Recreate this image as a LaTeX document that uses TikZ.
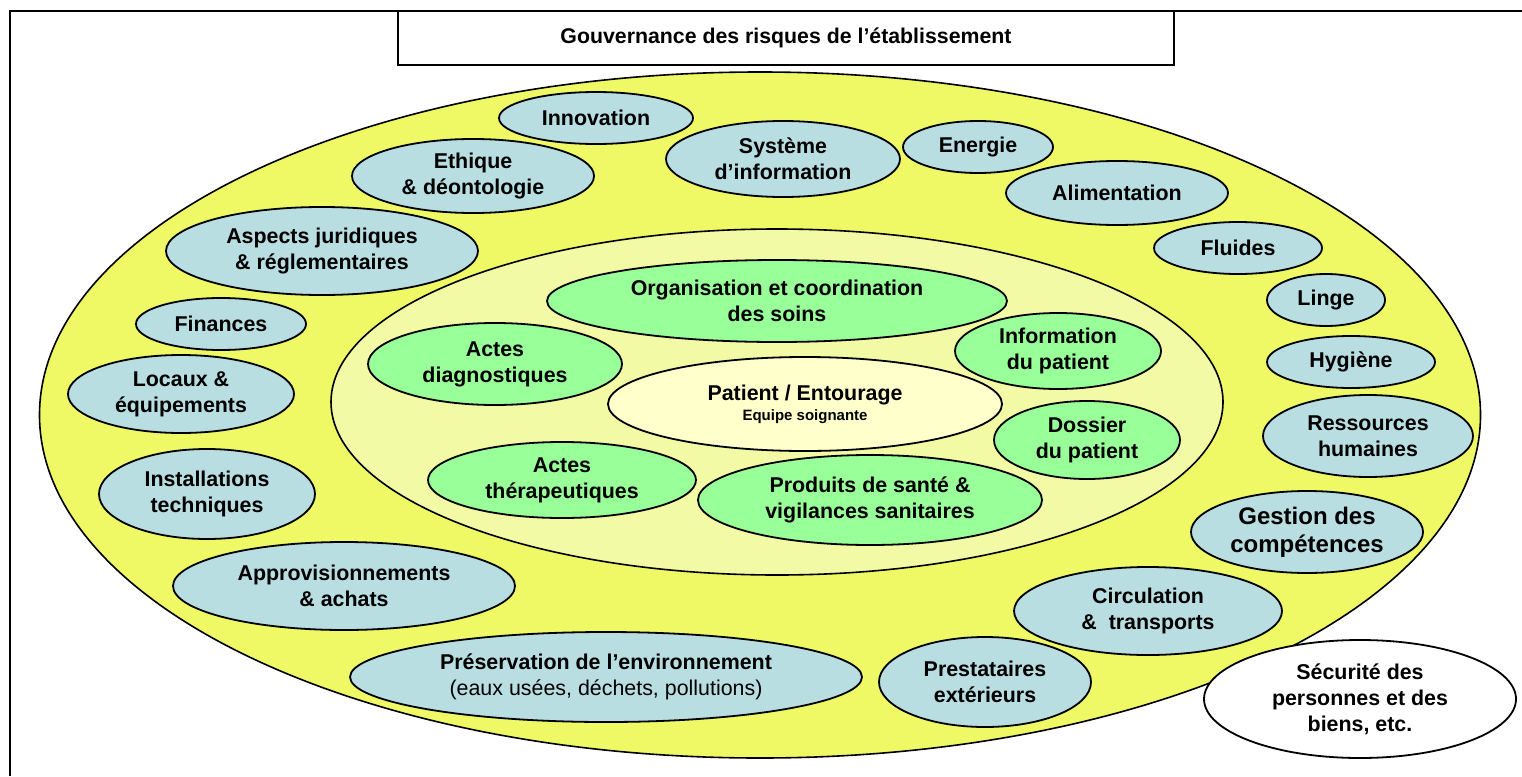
\documentclass[tikz,border=0pt]{standalone}
\usepackage{fontspec}
\setmainfont{Liberation Sans}
\usetikzlibrary{shapes.geometric}
\definecolor{outerY}{RGB}{239,249,102}
\definecolor{innerY}{RGB}{243,250,165}
\definecolor{coreY}{RGB}{255,255,204}
\definecolor{blueE}{RGB}{185,222,226}
\definecolor{greenE}{RGB}{153,255,153}
\begin{document}
\begin{tikzpicture}[x=1pt,y=-1pt,
  oval/.style={ellipse, draw=black, line width=1.8pt, inner sep=0pt, align=center,
    font=\bfseries\fontsize{21.4}{26}\selectfont},
  blueoval/.style={oval, fill=blueE},
  greenoval/.style={oval, fill=greenE},
  ring/.style={ellipse, draw=black, line width=1.6pt, inner sep=0pt},
  sz/.style 2 args={minimum width=#1pt, minimum height=#2pt}
]
\useasboundingbox (0,0) rectangle (1522,776);
% frame
\coordinate (fbl) at (10,776);
\coordinate (ftl) at (10,11);
\coordinate (ftr) at (1522,11);
\draw[line width=2.2pt] (fbl) -- (ftl) -- (ftr);
% title
\node[draw=black, line width=1.8pt, fill=white, inner sep=0pt, minimum width=776pt, minimum height=54pt,
  font=\bfseries\fontsize{21.3}{25}\selectfont] (title) at (786,38) {Gouvernance des risques de l’établissement};
% rings
\node[ring, fill=outerY, sz={1441}{686}] (outer) at (760,415) {};
\node[ring, fill=innerY, sz={892}{346}] (inner) at (777,402) {};
\node[oval, fill=coreY, sz={394}{94}] (core) at (805,404)
  {Patient / Entourage\\[-6pt]{\fontsize{15}{19}\selectfont Equipe soignante}};
% outer ring items
\node[blueoval, sz={194}{52}] (innov) at (596,118) {Innovation};
\node[blueoval, sz={242}{74}] (ethique) at (473,176) {Ethique\\\& déontologie};
\node[blueoval, sz={312}{88}] (aspects) at (322,251) {Aspects juridiques\\\& réglementaires};
\node[blueoval, sz={170}{52}] (finances) at (221,324) {Finances};
\node[blueoval, sz={226}{78}] (locaux) at (181,394) {Locaux \&\\équipements};
\node[blueoval, sz={216}{90}] (install) at (207,494) {Installations\\techniques};
\node[blueoval, sz={342}{88}] (approv) at (344,586) {Approvisionnements\\\& achats};
\node[blueoval, sz={512}{90}] (preserv) at (606,677)
  {Préservation de l’environnement\\{\mdseries (eaux usées, déchets, pollutions)}};
\node[blueoval, sz={234}{76}] (sysinfo) at (783,159) {Système\\d’information};
\node[blueoval, sz={150}{52}] (energie) at (978,147) {Energie};
\node[blueoval, sz={222}{64}] (alim) at (1117,193) {Alimentation};
\node[blueoval, sz={168}{52}] (fluides) at (1238,248) {Fluides};
\node[blueoval, sz={118}{52}] (linge) at (1326,300) {Linge};
\node[blueoval, sz={168}{52}] (hygiene) at (1351,362) {Hygiène};
\node[blueoval, sz={210}{82}] (rh) at (1368,436) {Ressources\\humaines};
\node[blueoval, sz={232}{82}, font=\bfseries\fontsize{24}{28}\selectfont] (gestion) at (1307,532)
  {Gestion des\\compétences};
\node[blueoval, sz={268}{88}] (circ) at (1148,611) {Circulation\\\&\ \ transports};
\node[blueoval, sz={212}{90}] (prest) at (985,682) {Prestataires\\extérieurs};
\node[oval, fill=white, sz={312}{118}] (secu) at (1360,699) {Sécurité des\\personnes et des\\biens, etc.};
% inner ring items
\node[greenoval, sz={460}{82}] (orga) at (777,301) {Organisation et coordination\\des soins};
\node[greenoval, sz={254}{82}] (diag) at (495,364) {Actes\\diagnostiques};
\node[greenoval, sz={206}{76}] (info) at (1058,351) {Information\\du patient};
\node[greenoval, sz={186}{78}] (dossier) at (1087,440) {Dossier\\du patient};
\node[greenoval, sz={268}{76}] (therap) at (562,480) {Actes\\thérapeutiques};
\node[greenoval, sz={344}{90}] (produits) at (870,500) {Produits de santé \&\\vigilances sanitaires};
\end{tikzpicture}
\end{document}
